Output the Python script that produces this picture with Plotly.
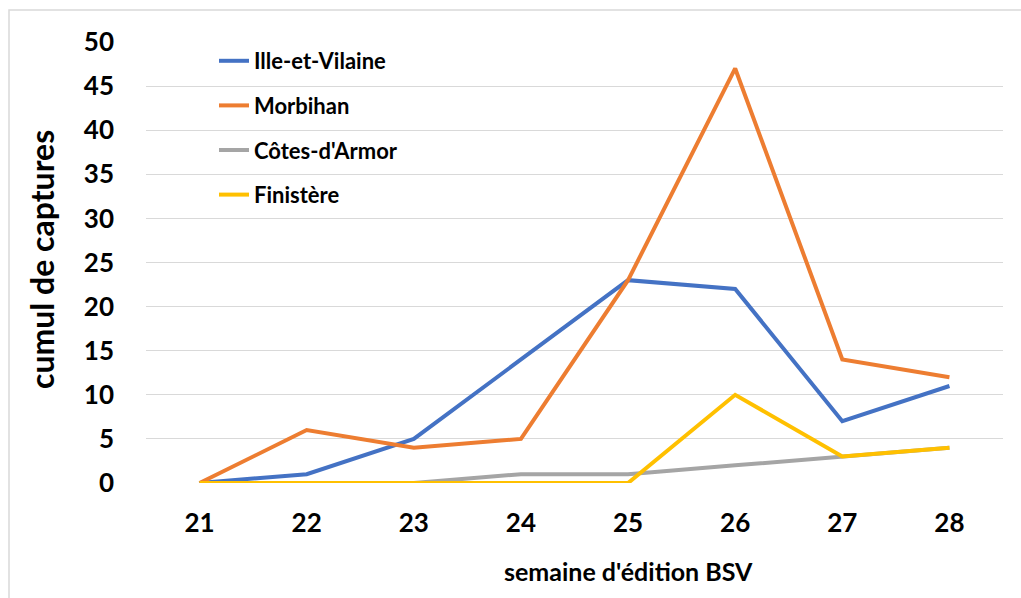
import plotly.graph_objects as go

weeks = [21, 22, 23, 24, 25, 26, 27, 28]
ille_et_vilaine = [0, 1, 5, 14, 23, 22, 7, 11]
morbihan = [0, 6, 4, 5, 23, 47, 14, 12]
cotes_darmor = [0, 0, 0, 1, 1, 2, 3, 4]
finistere = [0, 0, 0, 0, 0, 10, 3, 4]

series = [
    ("Ille-et-Vilaine", ille_et_vilaine, "#4472C4"),
    ("Morbihan", morbihan, "#ED7D31"),
    ("Côtes-d'Armor", cotes_darmor, "#A5A5A5"),
    ("Finistère", finistere, "#FFC000"),
]

FONT = "Lato"
fig = go.Figure()
for i, (name, vals, col) in enumerate(series):
    fig.add_trace(go.Scatter(
        x=weeks, y=vals, name=name, mode="lines",
        line=dict(color=col, width=4), legendgroup=f"g{i}",
    ))

L, R, T, B = 146, 18, 42, 115
W, H = 1021, 598
pw, ph = W - L - R, H - T - B

fig.update_layout(
    width=W, height=H,
    margin=dict(l=L, r=R, t=T, b=B),
    plot_bgcolor="white", paper_bgcolor="white",
    font=dict(family=FONT, color="black"),
    showlegend=True,
    legend=dict(
        x=(214 - L) / pw, y=(H - B - 40) / ph, xanchor="left", yanchor="top",
        font=dict(family=FONT, size=22, color="black", weight="bold"),
        tracegroupgap=13, bgcolor="rgba(0,0,0,0)", itemwidth=30,
    ),
    xaxis=dict(
        range=[20.5, 28.5], tickvals=weeks, ticktext=[str(w) for w in weeks],
        showgrid=False, zeroline=False, showline=False,
        tickfont=dict(family=FONT, size=26, weight="bold"),
        ticks="", ticklabelstandoff=22,
    ),
    yaxis=dict(
        range=[0, 50], dtick=5, showgrid=True, gridcolor="#D9D9D9", gridwidth=1,
        zeroline=False, showline=False,
        tickfont=dict(family=FONT, size=26, weight="bold"),
        ticks="", ticklabelstandoff=31,
    ),
    annotations=[
        dict(
            text="semaine d'édition BSV", xref="paper", yref="paper",
            x=(628 - L) / pw, y=(H - B - 571) / ph, xanchor="center", yanchor="middle",
            showarrow=False, font=dict(family=FONT, size=25, weight="bold"),
        ),
        dict(
            text="cumul de captures", xref="paper", yref="paper", textangle=-90,
            x=(41 - L) / pw, y=(H - B - 260) / ph, xanchor="center", yanchor="middle",
            showarrow=False, font=dict(family=FONT, size=32, weight="bold"),
        ),
    ],
    shapes=[dict(
        type="rect", xref="paper", yref="paper",
        x0=(9 - L) / pw, x1=(1040 - L) / pw,
        y0=(H - B - 620) / ph, y1=(H - B - 10) / ph,
        line=dict(color="#D9D9D9", width=1.5), fillcolor="rgba(0,0,0,0)", layer="below",
    )],
)

fig.write_html("out.html", config={"displayModeBar": False},
               post_script="document.body.style.margin='0';")
